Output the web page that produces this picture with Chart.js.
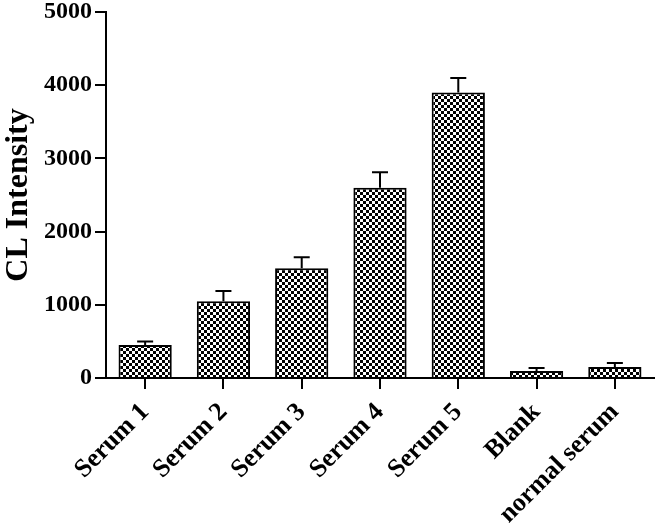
<!DOCTYPE html>
<html>
<head>
<meta charset="utf-8">
<script src="https://cdn.jsdelivr.net/npm/chart.js@4"></script>
<style>
  html, body { margin: 0; padding: 0; background: #fff; }
  #wrap { width: 661px; height: 524px; }
</style>
</head>
<body>
<div id="wrap"><canvas id="clChart"></canvas></div>
<script>
const categories = ["Serum 1", "Serum 2", "Serum 3", "Serum 4", "Serum 5", "Blank", "normal serum"]
const intensity = [450, 1050, 1500, 2600, 3900, 95, 150]
const errors = [50, 140, 150, 210, 200, 40, 55]
const yTicks = [0, 1000, 2000, 3000, 4000, 5000]

const FONT = "'Liberation Serif', 'Times New Roman', serif"

// checkerboard fill like the original
function checker() {
  const c = document.createElement('canvas')
  c.width = 6
  c.height = 6
  const g = c.getContext('2d')
  g.fillStyle = '#fff'
  g.fillRect(0, 0, 6, 6)
  g.fillStyle = '#000'
  g.fillRect(0, 0, 3, 3)
  g.fillRect(3, 3, 3, 3)
  return g.createPattern(c, 'repeat')
}

// upper error bars only
const errorBars = {
  id: 'errorBars',
  afterDatasetsDraw(chart) {
    const ctx = chart.ctx
    const y = chart.scales.y
    const meta = chart.getDatasetMeta(0)
    ctx.save()
    ctx.strokeStyle = '#000'
    ctx.lineWidth = 2
    meta.data.forEach((bar, i) => {
      const top = y.getPixelForValue(intensity[i] + errors[i])
      ctx.beginPath()
      ctx.moveTo(bar.x, bar.y)
      ctx.lineTo(bar.x, top)
      ctx.moveTo(bar.x - 8, top)
      ctx.lineTo(bar.x + 8, top)
      ctx.stroke()
    })
    ctx.restore()
  }
}

new Chart(document.getElementById('clChart'), {
  type: 'bar',
  data: {
    labels: categories,
    datasets: [{
      data: intensity,
      backgroundColor: checker(),
      borderColor: '#000',
      borderWidth: 2,
      borderSkipped: 'bottom',
      categoryPercentage: 1,
      barPercentage: 0.68
    }]
  },
  options: {
    responsive: true,
    maintainAspectRatio: false,
    animation: false,
    layout: { padding: { top: 12, right: 7, left: 0, bottom: 0 } },
    plugins: {
      legend: { display: false },
      tooltip: { enabled: false }
    },
    scales: {
      x: {
        afterFit(scale) {
          scale.height = 146
          scale.paddingLeft = 0
          scale.paddingRight = 0
        },
        grid: {
          offset: false,
          drawOnChartArea: false,
          color: '#000',
          lineWidth: 2,
          tickLength: 11
        },
        border: { color: '#000', width: 2 },
        ticks: {
          color: '#000',
          font: { family: FONT, size: 26, weight: 'bold' },
          minRotation: 45,
          maxRotation: 45,
          padding: 8
        }
      },
      y: {
        min: 0,
        max: 5000,
        afterFit(scale) {
          scale.width = 106
          scale.paddingTop = 0
          scale.paddingBottom = 0
        },
        afterBuildTicks(scale) { scale.ticks = yTicks.map(v => ({ value: v })) },
        grid: {
          drawOnChartArea: false,
          color: '#000',
          lineWidth: 2,
          tickLength: 11
        },
        border: { color: '#000', width: 2 },
        ticks: {
          color: '#000',
          font: { family: FONT, size: 24, weight: 'bold' },
          padding: 3,
          callback: v => String(v)
        },
        title: {
          display: true,
          text: 'CL Intensity',
          color: '#000',
          font: { family: FONT, size: 32, weight: 'bold' },
          padding: { top: 0, bottom: 0 }
        }
      }
    }
  },
  plugins: [errorBars]
})
</script>
</body>
</html>
